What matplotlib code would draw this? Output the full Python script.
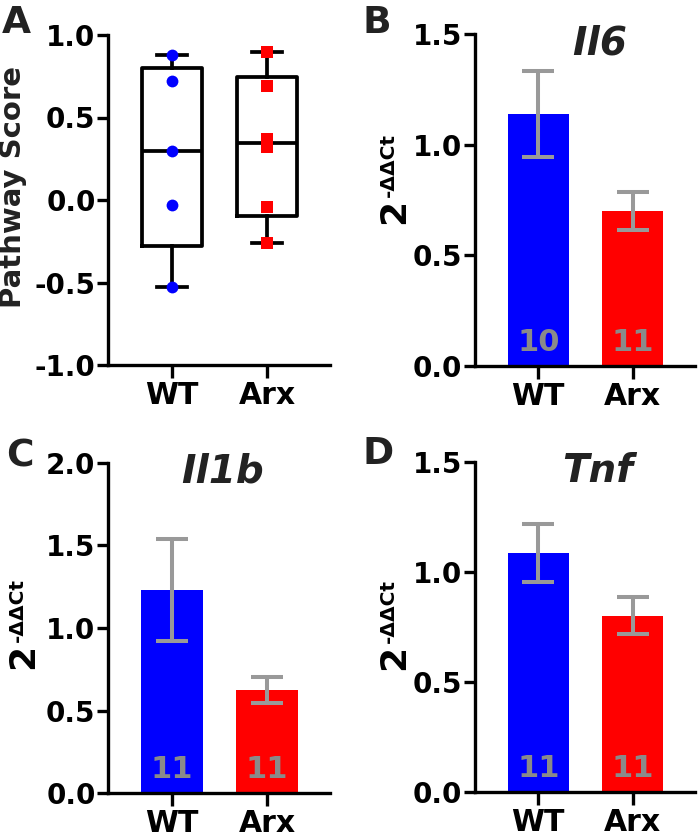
import numpy as np
import matplotlib
matplotlib.use('Agg')
import matplotlib.pyplot as plt

plt.rcParams['font.family'] = 'DejaVu Sans'
plt.rcParams['font.weight'] = 'bold'

groups = ['WT', 'Arx']
colors = ['#0000FF', '#FF0000']
err_color = '#999999'
count_color = '#8a8a8a'

# panel A: pathway scores per animal
wt_scores = [0.88, 0.72, 0.30, -0.03, -0.53]
arx_scores = [0.90, 0.69, 0.37, 0.32, -0.04, -0.26]

# panels B-D: mean, sem, n
il6_mean = [1.14, 0.70]
il6_sem = [0.195, 0.087]
il6_n = [10, 11]

il1b_mean = [1.23, 0.625]
il1b_sem = [0.31, 0.08]
il1b_n = [11, 11]

tnf_mean = [1.085, 0.80]
tnf_sem = [0.13, 0.085]
tnf_n = [11, 11]

W, H = 699, 839
fig = plt.figure(figsize=(W/100, H/100), dpi=100)
LW = 2.4

def px_axes(left, top, right, bottom):
    return fig.add_axes([left/W, 1-bottom/H, (right-left)/W, (bottom-top)/H])

def style(ax, ylim, yticks):
    for s in ['top', 'right']:
        ax.spines[s].set_visible(False)
    for s in ['left', 'bottom']:
        ax.spines[s].set_linewidth(LW)
    ax.set_ylim(ylim)
    ax.set_yticks(yticks)
    ax.set_yticklabels(['%.1f' % t for t in yticks], fontsize=20, fontweight='bold')
    ax.set_xlim(-0.67, 1.66)
    ax.set_xticks([0, 1])
    ax.set_xticklabels(groups, fontsize=21.5, fontweight='bold')
    ax.tick_params(axis='y', length=8, width=LW, pad=1)
    ax.tick_params(axis='x', length=9.5, width=LW, pad=2)

def ddct_label(x2, y2, sx, sy):
    # big "2" plus the raised "-ΔΔCt", both turned 90 degrees (figure pixels)
    fig.text(x2/W, 1-y2/H, '2', rotation=90, ha='center', va='center',
             fontsize=26, fontweight='bold')
    fig.text(sx/W, 1-sy/H, '-ΔΔCt', rotation=90, ha='left', va='bottom',
             fontsize=14.5, fontweight='bold')

def bar_panel(ax, means, sems, ns, ylim, yticks, title, tx):
    x = np.arange(len(groups))
    ax.bar(x, means, width=0.65, color=colors, zorder=2)
    ax.errorbar(x, means, yerr=sems, fmt='none', ecolor=err_color, elinewidth=2.9,
                capsize=11.5, capthick=2.9, zorder=3)
    for xi, n in zip(x, ns):
        ax.annotate(str(n), (xi, 0), xytext=(0, 6.5), textcoords='offset points',
                    ha='center', va='bottom', fontsize=22, fontweight='bold',
                    color=count_color, zorder=4)
    style(ax, ylim, yticks)
    ax.text(tx, 1.03, title, transform=ax.transAxes, ha='center', va='top',
            fontsize=28, fontweight='bold', style='italic', color='#222222')

# A
axA = px_axes(108, 35, 330, 365)
stats = []
for lab, d in zip(groups, [wt_scores, arx_scores]):
    d = np.array(d)
    q1, med, q3 = np.percentile(d, [25, 50, 75], method='weibull')
    stats.append(dict(label=lab, med=med, q1=q1, q3=q3, whislo=d.min(), whishi=d.max(), fliers=[]))
axA.bxp(stats, positions=[0, 1], widths=0.63, capwidths=0.32, showfliers=False,
        boxprops=dict(linewidth=2.7, color='black'),
        whiskerprops=dict(linewidth=2.7, color='black'),
        capprops=dict(linewidth=2.7, color='black'),
        medianprops=dict(linewidth=2.7, color='black'), zorder=2)
axA.plot(np.zeros(len(wt_scores)), wt_scores, 'o', color=colors[0], ms=8.5, mew=0, zorder=3)
axA.plot(np.ones(len(arx_scores)), arx_scores, 's', color=colors[1], ms=8.5, mew=0, zorder=3)
style(axA, (-1.0, 1.0), [-1.0, -0.5, 0.0, 0.5, 1.0])
axA.text(-0.426, 0.539, 'Pathway Score', transform=axA.transAxes, rotation=90,
         ha='center', va='center', fontsize=21, fontweight='bold', color='#222222')

# B
axB = px_axes(475, 34, 695, 366)
bar_panel(axB, il6_mean, il6_sem, il6_n, (0, 1.5), [0.0, 0.5, 1.0, 1.5], 'Il6', 0.568)
ddct_label(394, 211, 379, 197)

# C
axC = px_axes(108, 462.7, 330, 793.3)
bar_panel(axC, il1b_mean, il1b_sem, il1b_n, (0, 2.0), [0.0, 0.5, 1.0, 1.5, 2.0], 'Il1b', 0.518)
ddct_label(23, 656, 8, 642)

# D
axD = px_axes(475, 461.7, 695, 791.7)
bar_panel(axD, tnf_mean, tnf_sem, tnf_n, (0, 1.5), [0.0, 0.5, 1.0, 1.5], 'Tnf', 0.559)
ddct_label(394, 657, 379, 643)

# panel letters
for lab, x, y in [('A', 2, 5), ('B', 363, 5), ('C', 6, 438), ('D', 363, 436)]:
    fig.text(x/W, 1-y/H, lab, ha='left', va='top', fontsize=27, fontweight='bold', color='#222222')

fig.savefig('out.png', dpi=100)
